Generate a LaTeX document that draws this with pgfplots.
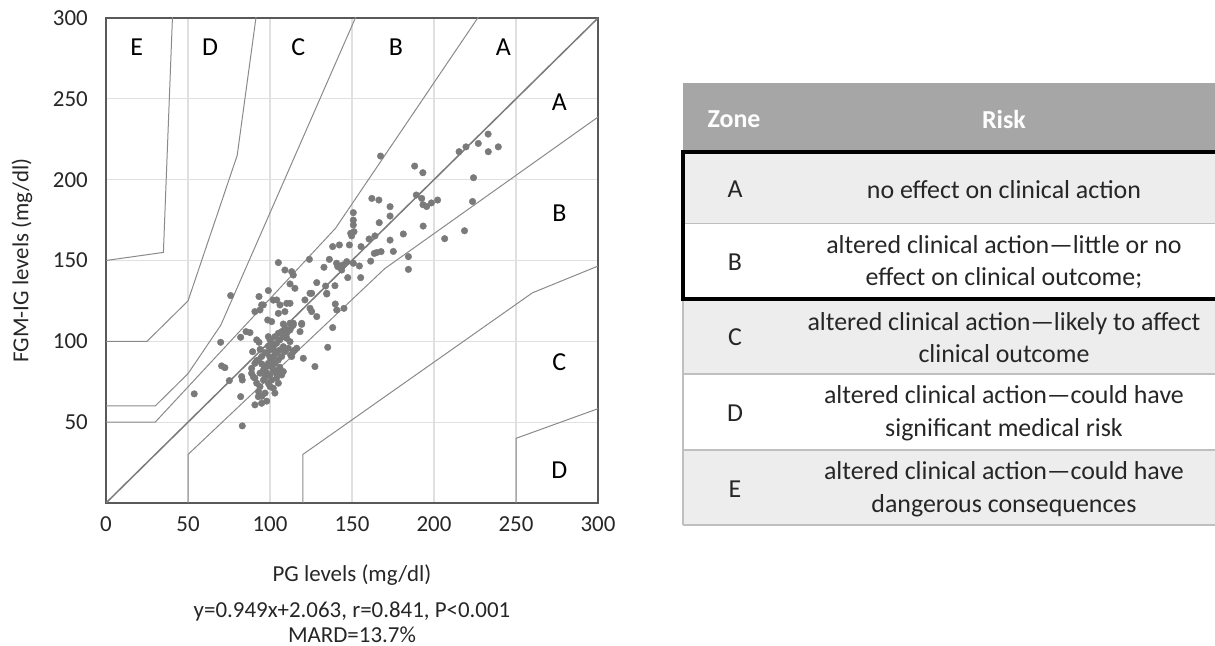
\documentclass[border=0pt]{standalone}
\usepackage{fontspec}
\setmainfont{Carlito}
\usepackage{pgfplots}
\usepackage{pgfplotstable}
\pgfplotsset{compat=1.18}
\definecolor{gridc}{HTML}{E0E0E0}
\definecolor{framec}{HTML}{595959}
\definecolor{zonec}{HTML}{8A8A8A}
\definecolor{diagc}{HTML}{7A7A7A}
\definecolor{ptc}{HTML}{7A7A7A}
\definecolor{headc}{HTML}{A6A6A6}
\definecolor{rowc}{HTML}{EDEDED}
\definecolor{rulec}{HTML}{BFBFBF}
\definecolor{txtc}{HTML}{262626}
\newcommand{\axfont}{\fontsize{23}{27}\selectfont}
\newcommand{\zfont}{\fontsize{26}{30}\selectfont}

\pgfplotstableread{
x y
233.0 228.2
239.2 220.3
227.0 222.4
219.5 220.3
215.3 217.3
233.1 217.3
167.4 214.6
188.2 208.4
193.2 204.3
224.1 201.2
223.5 186.5
218.6 168.4
206.5 163.5
193.4 171.3
189.2 190.5
192.5 188.4
193.3 184.5
195.5 183.4
198.4 185.6
202.2 187.4
181.3 166.4
184.4 152.4
184.4 144.5
162.1 188.4
166.4 187.4
166.6 173.4
173.2 177.5
173.2 183.3
173.2 162.6
175.2 155.6
161.4 149.6
163.6 154.4
165.0 154.9
167.7 155.5
160.4 163.3
164.0 165.2
155.5 158.6
150.8 179.6
150.8 175.0
150.8 172.0
151.2 167.8
149.2 166.8
149.8 165.2
148.4 159.6
142.3 159.6
138.2 158.6
146.8 149.3
144.3 147.2
143.7 144.1
147.4 139.4
150.8 148.3
154.5 146.6
155.3 139.4
136.2 150.7
140.6 148.3
141.3 146.2
132.9 145.8
133.9 134.2
134.6 129.3
139.6 134.4
139.8 123.1
140.7 119.4
145.1 120.4
138.2 108.5
135.2 96.3
127.4 84.4
120.3 89.5
124.0 150.7
128.5 136.3
124.4 129.7
121.3 125.6
124.4 120.4
125.4 118.4
128.5 115.3
118.3 106.0
119.3 110.5
109.1 144.1
113.2 143.1
114.2 141.0
112.2 135.5
115.2 132.8
105.1 148.7
99.0 131.4
93.3 127.7
76.0 128.3
94.9 122.5
90.8 118.4
93.9 119.4
104.1 125.6
106.1 122.5
105.1 117.3
109.1 118.4
110.2 123.5
112.2 123.5
98.6 113.2
101.0 112.2
108.1 110.7
112.2 111.2
113.2 109.1
89.4 93.6
91.9 100.9
93.3 99.4
85.4 106.0
87.8 105.4
82.1 102.5
75.2 75.7
70.5 84.8
72.5 83.7
69.9 99.4
53.8 67.5
82.7 78.2
83.1 76.1
82.1 65.8
83.1 47.7
88.8 83.3
90.8 86.4
92.9 88.5
94.9 90.6
98.0 92.6
100.0 94.7
102.0 96.7
104.0 98.8
106.0 100.9
108.1 102.9
110.2 105.0
112.2 107.0
114.2 111.2
99.0 102.9
100.0 100.9
103.0 102.9
105.1 105.0
107.1 106.0
109.1 108.1
110.2 101.9
112.2 99.8
108.1 96.7
106.1 94.7
104.0 92.6
102.0 90.6
101.0 88.5
99.0 86.4
98.0 84.4
96.0 82.3
93.9 80.3
101.0 84.4
103.0 86.4
105.1 88.5
107.1 90.6
109.1 93.6
111.2 95.7
115.2 94.7
113.2 90.6
97.0 78.2
100.0 79.2
104.0 77.2
107.1 79.2
108.1 81.3
105.1 82.3
102.0 82.3
97.0 68.0
103.0 68.0
105.1 74.1
102.0 71.0
91.9 74.1
93.9 72.0
90.8 77.2
90.8 60.7
94.9 61.7
92.9 65.8
91.9 88.0
95.0 86.0
97.0 93.0
94.0 95.0
99.0 97.0
101.0 99.0
103.0 94.0
100.0 90.0
98.0 80.5
96.0 76.0
99.0 74.0
101.0 76.0
104.0 80.0
106.0 84.0
95.0 66.0
98.0 63.0
100.0 72.0
93.0 69.0
88.8 80.2
89.8 78.1
95.9 122.5
102.0 125.5
125.4 129.7
134.6 129.7
114.2 110.1
119.3 111.1
116.3 95.7
112.6 91.5
114.2 93.6
}\pgfdata

\begin{document}
\begin{tikzpicture}
\begin{scope}[x=1bp,y=1bp]
% table
\fill[headc] (683,563.3) rectangle (1215,494.3);
\fill[rowc] (683,494.3) rectangle (1215,422.7);
\fill[rowc] (683,346.7) rectangle (1215,272);
\fill[rowc] (683,196) rectangle (1215,121);
\draw[rulec, line width=1.5bp] (683,422.7) -- (1215,422.7)
  (683,346.7) -- (1215,346.7) (683,272) -- (1215,272)
  (683,196) -- (1215,196) (683,121) -- (1215,121)
  (683,494.3) -- (683,121);
\draw[black, line width=4bp] (683,494.3) rectangle (1218,346.7);
\begin{scope}[every node/.style={font=\fontsize{26}{32.3}\selectfont, text=txtc, align=center}]
\node[text=white, font=\fontsize{26}{32.3}\selectfont\bfseries] at (734,526.7) {Zone};
\node[text=white, font=\fontsize{26}{32.3}\selectfont\bfseries] at (1004,526.7) {Risk};
\node at (735,456.7) {A};
\node at (1004,456.7) {no effect on clinical action};
\node at (735,383.8) {B};
\node at (1004,383.8) {altered clinical action—little or no\\effect on clinical outcome;};
\node at (735,308.7) {C};
\node at (1004,308.7) {altered clinical action—likely to affect\\clinical outcome};
\node at (735,232.7) {D};
\node at (1004,232.7) {altered clinical action—could have\\significant medical risk};
\node at (735,156.8) {E};
\node at (1004,156.8) {altered clinical action—could have\\dangerous consequences};
\end{scope}
\node[font=\axfont, text=txtc, inner sep=0pt] at (352,34) {y=0.949x+2.063, r=0.841, P<0.001};
\node[font=\axfont, text=txtc, inner sep=0pt] at (352,11) {MARD=13.7\%};
\end{scope}

\begin{axis}[
  at={(106bp,143bp)}, anchor=south west,
  scale only axis, width=492bp, height=485bp,
  xmin=0, xmax=300, ymin=0, ymax=300,
  xtick={0,50,...,300}, ytick={50,100,...,300},
  grid=major, major grid style={gridc, line width=1.3bp},
  axis line style={framec, line width=1.2bp},
  major tick length=0pt,
  /pgf/number format/assume math mode=true,
  tick label style={font=\axfont, text=txtc},
  xticklabel style={anchor=center, inner sep=0pt, yshift=-21bp},
  yticklabel style={anchor=east, inner sep=0pt, xshift=-18bp},
  every axis x label/.style={at={(axis description cs:0.5,0)}, anchor=center, yshift=-72bp, font=\axfont, text=txtc},
  every axis y label/.style={at={(axis description cs:-0.1707,0.5)}, rotate=90, anchor=center, font=\axfont, text=txtc},
  xlabel={PG levels (mg/dl)},
  ylabel={FGM-IG levels (mg/dl)},
  zone/.style={zonec, line width=1bp, no marks},
]
\addplot[zone] coordinates {(0,50)(30,50)(140,170)(280,380)};
\addplot[zone] coordinates {(50,0)(50,30)(170,145)(385,300)};
\addplot[zone] coordinates {(0,60)(30,60)(50,80)(70,110)(260,550)};
\addplot[zone] coordinates {(120,0)(120,30)(260,130)(550,250)};
\addplot[zone] coordinates {(0,100)(25,100)(50,125)(80,215)(125,550)};
\addplot[zone] coordinates {(250,0)(250,40)(550,150)};
\addplot[zone] coordinates {(0,150)(35,155)(50,550)};
\addplot[diagc, line width=1.5bp, no marks] coordinates {(0,0)(300,300)};
\addplot[only marks, mark=*, mark size=3.3bp, ptc] table[x=x,y=y] {\pgfdata};
\node[font=\zfont] at (axis cs:18.7,282) {E};
\node[font=\zfont] at (axis cs:63.4,282) {D};
\node[font=\zfont] at (axis cs:117.3,282) {C};
\node[font=\zfont] at (axis cs:176.8,282) {B};
\node[font=\zfont] at (axis cs:242.3,282) {A};
\node[font=\zfont] at (axis cs:276.4,248) {A};
\node[font=\zfont] at (axis cs:276.4,179) {B};
\node[font=\zfont] at (axis cs:276.4,87) {C};
\node[font=\zfont] at (axis cs:276.4,20.4) {D};
\end{axis}
\pgfresetboundingbox
\path[use as bounding box] (0,0) rectangle (1215bp,646bp);
\end{tikzpicture}
\end{document}
